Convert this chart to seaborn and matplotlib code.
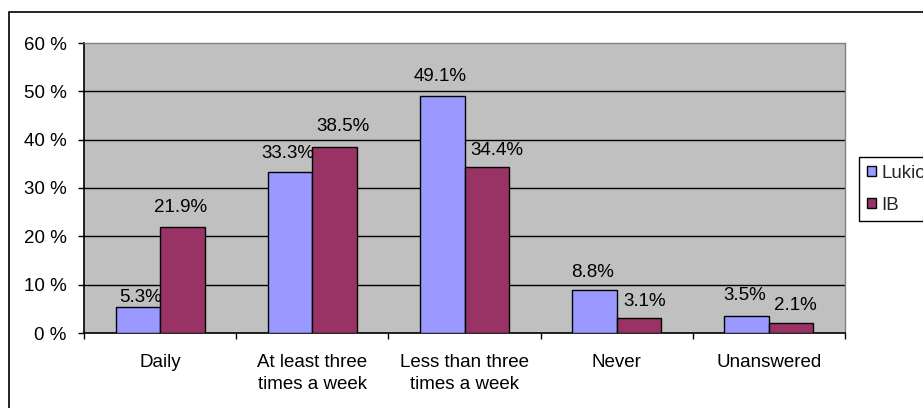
import matplotlib
matplotlib.use("Agg")
import matplotlib.pyplot as plt
from matplotlib.patches import Rectangle
import seaborn as sns
import pandas as pd
import numpy as np

categories = ["Daily", "At least three\ntimes a week", "Less than three\ntimes a week", "Never", "Unanswered"]
lukio = [5.3, 33.3, 49.1, 8.8, 3.5]
ib = [21.9, 38.5, 34.4, 3.1, 2.1]
series = ["Lukio", "IB"]
colors = ["#9999FF", "#993366"]
yticks = [0, 10, 20, 30, 40, 50, 60]

# value-label nudges in pixels: (dx, height of label centre above bar top)
label_nudge = {
    "Lukio": [(3, 10), (-2, 19), (-2, 19), (-2, 18), (-2, 21)],
    "IB": [(-2, 20), (8, 20), (10, 16), (6, 17), (4, 17)],
}

df = pd.DataFrame({
    "category": categories * 2,
    "value": lukio + ib,
    "series": [series[0]] * len(categories) + [series[1]] * len(categories),
})

sns.set_theme(style="white")
plt.rcParams["font.family"] = ["Liberation Sans", "DejaVu Sans"]
FS = 13.5
plt.rcParams["font.size"] = FS

W, H = 923, 408
fig = plt.figure(figsize=(W / 100, H / 100), dpi=100)
fig.patch.set_facecolor("white")
ax = fig.add_axes([84 / W, 1 - 333 / H, (845 - 84) / W, (333 - 43) / H])
ax.set_facecolor("#C0C0C0")

sns.barplot(data=df, x="category", y="value", hue="series", palette=colors,
            width=0.585, edgecolor="black", linewidth=1, saturation=1,
            ax=ax, legend=True, zorder=3)

ax.set_ylim(0, 60)
ax.set_xlim(-0.5, len(categories) - 0.5)
ax.set_yticks(yticks)
ax.set_yticklabels([f"{v} %" for v in yticks])
ax.set_xlabel("")
ax.set_ylabel("")

for v in yticks[1:-1]:
    ax.axhline(v, color="black", lw=1, zorder=1)

ax.set_xticks(range(len(categories)))
ax.set_xticklabels(categories, linespacing=1.4)
ax.set_xticks(np.arange(-0.5, len(categories), 1.0), minor=True)
ax.tick_params(axis="x", which="major", length=0, pad=15, labelsize=FS, colors="black")
ax.tick_params(axis="x", which="minor", length=4.5, width=1, color="black", bottom=True)
ax.tick_params(axis="y", which="major", length=4.5, width=1, left=True, pad=8, labelsize=FS, colors="black")

for side in ["left", "bottom"]:
    ax.spines[side].set_color("black")
    ax.spines[side].set_linewidth(1.2)
for side in ["top", "right"]:
    ax.spines[side].set_color("#808080")
    ax.spines[side].set_linewidth(1)

px2pt = 72 / 100
for name, cont in zip(series, ax.containers):
    for bar, (dx, dy) in zip(cont, label_nudge[name]):
        h = bar.get_height()
        ax.annotate(f"{h:.1f}%", (bar.get_x() + bar.get_width() / 2, h),
                    xytext=(dx * px2pt, dy * px2pt), textcoords="offset points",
                    ha="center", va="center", fontsize=FS, color="black", zorder=5)

leg = ax.legend(loc="upper left", bbox_to_anchor=(859 / W, 1 - 157 / H),
                bbox_transform=fig.transFigure, frameon=True, fancybox=False,
                framealpha=1, edgecolor="black", fontsize=FS,
                handlelength=0.5, handleheight=0.5, handletextpad=0.3,
                borderpad=0.4, labelspacing=0.8, borderaxespad=0)
leg.get_frame().set_linewidth(1)

fig.add_artist(Rectangle((9 / W, -0.1), 2, 1 - 12 / H + 0.1,
                         transform=fig.transFigure, fill=False,
                         edgecolor="black", lw=1.2, clip_on=False))

fig.savefig("out.png", dpi=100)
